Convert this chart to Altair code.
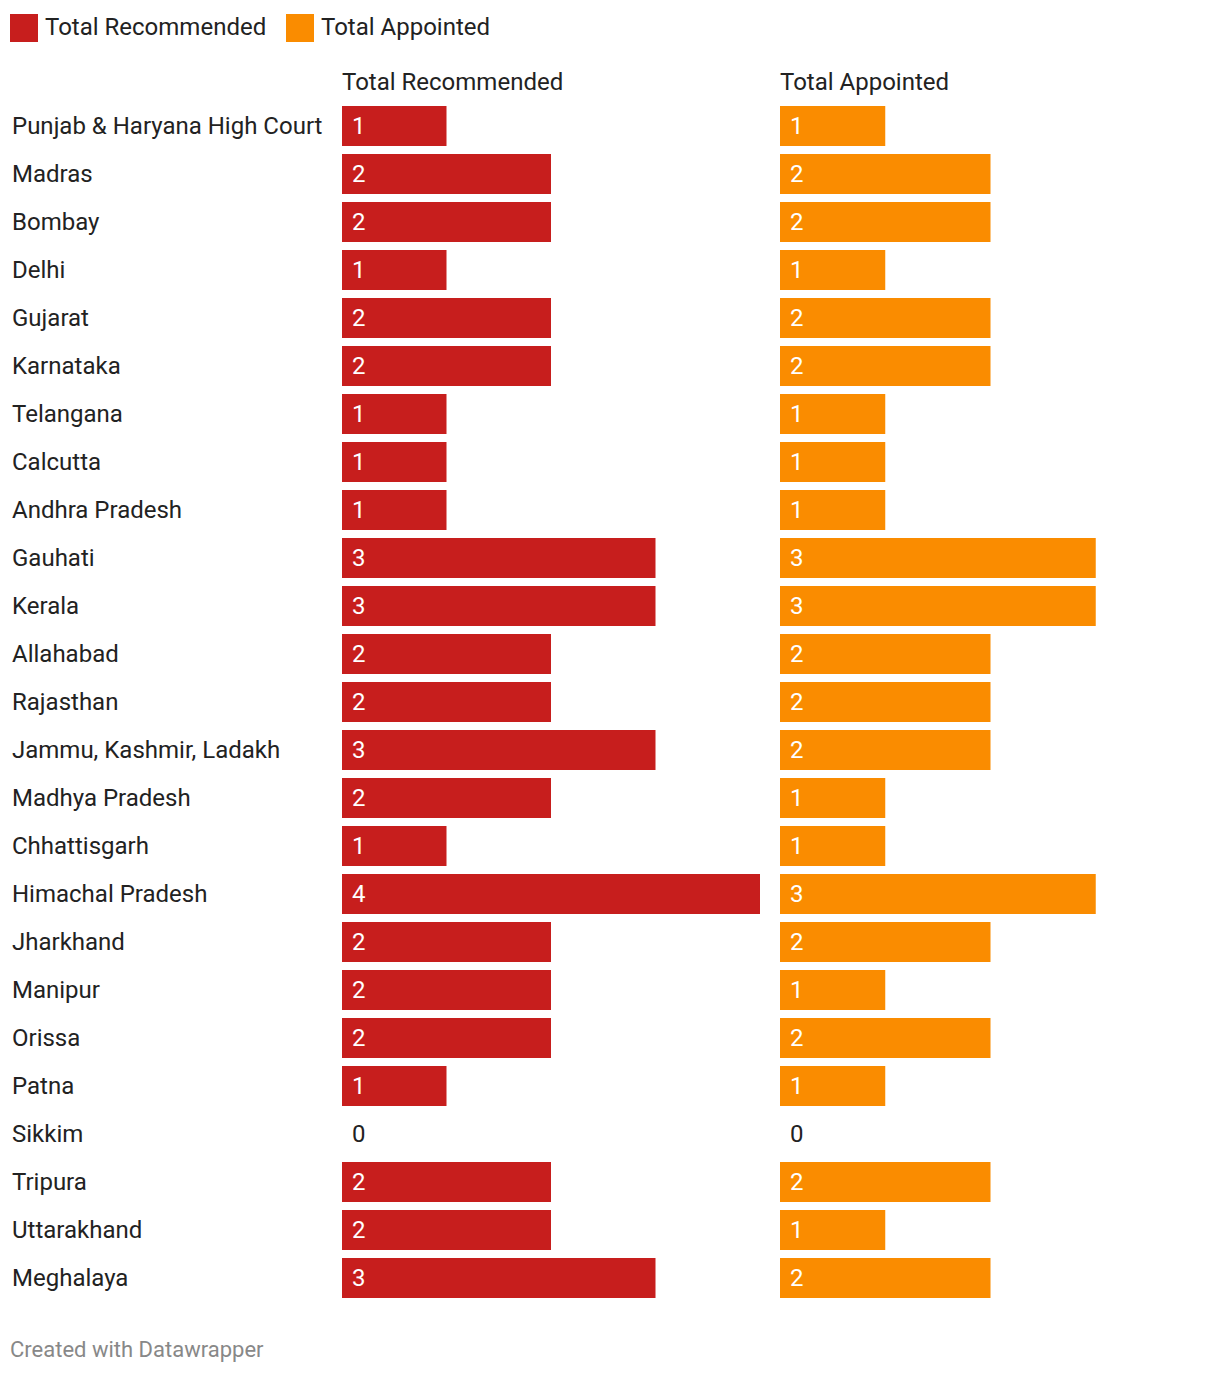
import altair as alt
import pandas as pd

categories = [
    "Punjab & Haryana High Court", "Madras", "Bombay", "Delhi", "Gujarat",
    "Karnataka", "Telangana", "Calcutta", "Andhra Pradesh", "Gauhati",
    "Kerala", "Allahabad", "Rajasthan", "Jammu, Kashmir, Ladakh",
    "Madhya Pradesh", "Chhattisgarh", "Himachal Pradesh", "Jharkhand",
    "Manipur", "Orissa", "Patna", "Sikkim", "Tripura", "Uttarakhand",
    "Meghalaya",
]
recommended = [1, 2, 2, 1, 2, 2, 1, 1, 1, 3, 3, 2, 2, 3, 2, 1, 4, 2, 2, 2, 1, 0, 2, 2, 3]
appointed = [1, 2, 2, 1, 2, 2, 1, 1, 1, 3, 3, 2, 2, 2, 1, 1, 3, 2, 1, 2, 1, 0, 2, 1, 2]
series_names = ["Total Recommended", "Total Appointed"]
series_colors = ["#c71e1d", "#fa8c00"]
footer = ["Created with Datawrapper"]

rows = []
for s, vals in zip(series_names, [recommended, appointed]):
    for c, v in zip(categories, vals):
        rows.append({"court": c, "series": s, "value": v})
df = pd.DataFrame(rows)
labels_df = pd.DataFrame({"court": categories})
footer_df = pd.DataFrame({"t": footer})

FONT = "Roboto"
DARK = "#222222"
FS = 24

ydef = alt.Y(
    "court:N", sort=categories, axis=None,
    scale=alt.Scale(domain=categories, paddingInner=1 / 6, paddingOuter=1 / 12),
)

label_panel = alt.layer(
    alt.Chart(labels_df).mark_text(
        align="left", baseline="middle", fontSize=FS, font=FONT, color=DARK, dy=1
    ).encode(x=alt.value(2), y=ydef, text="court:N"),
    alt.Chart(footer_df).mark_text(
        align="left", baseline="middle", fontSize=22, font=FONT, color="#888888"
    ).encode(x=alt.value(0), y=alt.value(1248), text="t:N"),
).properties(width=312, height=1200)

legend = alt.Legend(
    orient="none", legendX=0, legendY=-88, direction="horizontal", title=None,
    symbolType="square", symbolSize=784, symbolStrokeWidth=0, symbolOpacity=1,
    labelFontSize=FS, labelFont=FONT, labelColor=DARK, labelOffset=7,
    labelLimit=400, columnPadding=19, padding=0,
)


def panel(name, width):
    base = alt.Chart(df).transform_filter(alt.datum.series == name)
    x = alt.X("value:Q", axis=None, scale=alt.Scale(domain=[0, 4], nice=False))
    bars = base.mark_bar().encode(
        x=x, y=ydef,
        color=alt.Color(
            "series:N",
            scale=alt.Scale(domain=series_names, range=series_colors),
            legend=legend,
        ),
    )
    texts = base.mark_text(
        align="left", baseline="middle", dx=10, dy=1, fontSize=FS, font=FONT
    ).encode(
        x=alt.value(0), y=ydef, text="value:Q",
        color=alt.condition(alt.datum.value == 0, alt.value(DARK), alt.value("white")),
    )
    header = alt.Chart(pd.DataFrame({"h": [name]})).mark_text(
        align="left", baseline="middle", fontSize=FS, font=FONT, color=DARK
    ).encode(x=alt.value(0), y=alt.value(-19), text="h:N")
    return alt.layer(bars, texts, header).properties(width=width, height=1200)


chart = alt.hconcat(
    label_panel, panel(series_names[0], 418), panel(series_names[1], 421),
    spacing=20, bounds="flush",
).properties(
    padding={"left": 2, "top": 6, "right": 5, "bottom": 5},
).configure_view(stroke=None)

chart.save("out.html", embed_options={"renderer": "svg", "actions": False})
